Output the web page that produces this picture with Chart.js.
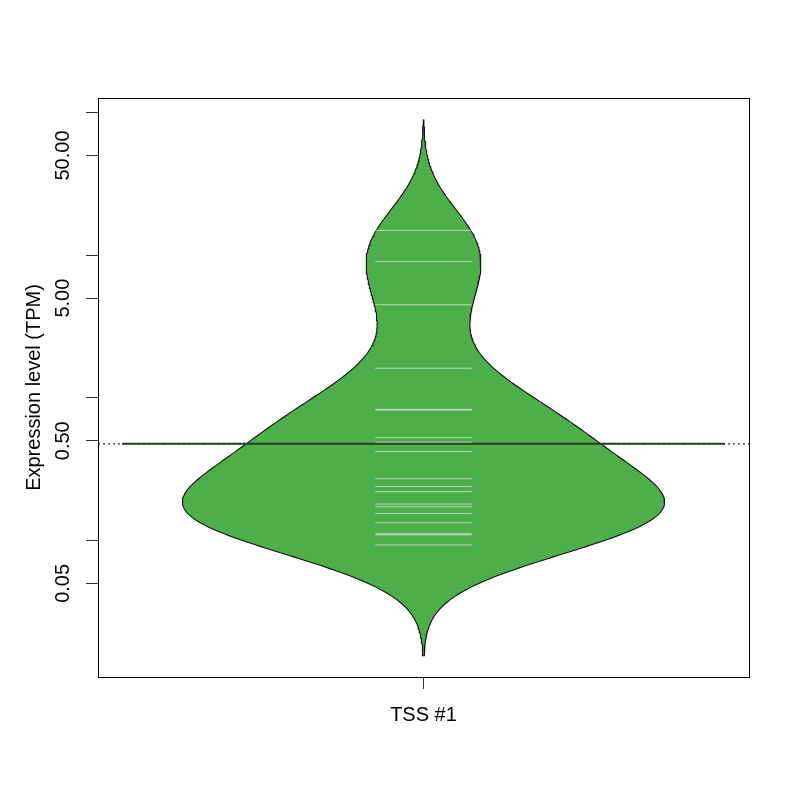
<!DOCTYPE html>
<html>
<head>
<meta charset="utf-8">
<script src="https://cdn.jsdelivr.net/npm/chart.js@4/dist/chart.umd.min.js"></script>
<style>html,body{margin:0;padding:0;background:#fff;}canvas{display:block;}</style>
</head>
<body>
<canvas id="c" width="800" height="800"></canvas>
<script>
// ---- data ----
const categories = ['TSS #1'];
const tpmValues = [14.92, 9.00, 4.49, 1.612, 0.83, 0.82, 0.526, 0.488, 0.4206, 0.2707,
                   0.2390, 0.2195, 0.1799, 0.1722, 0.1546, 0.1330, 0.1115, 0.1095, 0.0930];
const yTickValues = [0.05, 0.1, 0.5, 1, 5, 10, 50, 100];
const yTickLabels = ['0.05', '', '0.50', '', '5.00', '', '50.00', ''];
const bandwidthLog10 = 0.259;   // kernel bandwidth on log10 scale

// ---- derived ----
const logs = tpmValues.map(v => Math.log10(v));
const geoMean = Math.pow(10, logs.reduce((a, b) => a + b, 0) / logs.length);

const N = 300;
const lo = Math.min(...logs) - 3 * bandwidthLog10;
const hi = Math.max(...logs) + 3 * bandwidthLog10;
const grid = [], dens = [];
for (let i = 0; i < N; i++) {
  const L = lo + (hi - lo) * i / (N - 1);
  let d = 0;
  for (const l of logs) { const z = (L - l) / bandwidthLog10; d += Math.exp(-0.5 * z * z); }
  grid.push(L); dens.push(d);
}
const dmax = Math.max(...dens);
const halfMax = 0.4;
const violin = [];
for (let i = N - 1; i >= 0; i--) violin.push({x: 1 + dens[i] / dmax * halfMax, y: Math.pow(10, grid[i])});
for (let i = 0; i < N; i++) violin.push({x: 1 - dens[i] / dmax * halfMax, y: Math.pow(10, grid[i])});
violin.push(violin[0]);

const beanLines = [];
tpmValues.forEach(v => { beanLines.push({x: 1 - 0.08, y: v}, {x: 1 + 0.08, y: v}, {x: 1, y: null}); });

const FONT = {family: '"Liberation Sans", Arial, Helvetica, sans-serif', size: 20};

const boxPlugin = {
  id: 'box',
  afterDatasetsDraw(chart) {
    const a = chart.chartArea, ctx = chart.ctx;
    ctx.save();
    ctx.strokeStyle = '#000';
    ctx.lineWidth = 1;
    ctx.strokeRect(Math.round(a.left) + 0.5, Math.round(a.top) + 0.5,
                   Math.round(a.right - a.left), Math.round(a.bottom - a.top));
    ctx.restore();
  }
};

new Chart(document.getElementById('c'), {
  type: 'line',
  data: {
    datasets: [
      { label: 'overall', data: [{x: 0.46, y: geoMean}, {x: 1.54, y: geoMean}],
        borderColor: '#000', borderWidth: 1, borderDash: [2, 3], pointRadius: 0, order: 4 },
      { label: 'bean', data: violin, backgroundColor: '#4DAF4A', borderColor: '#111',
        borderWidth: 1.1, pointRadius: 0, fill: 'shape', clip: false, order: 3 },
      { label: 'beanlines', data: beanLines, borderColor: 'rgba(255,255,255,0.6)',
        borderWidth: 1, pointRadius: 0, spanGaps: false, order: 2 },
      { label: 'mean', data: [{x: 0.5, y: geoMean}, {x: 1.5, y: geoMean}],
        borderColor: '#243f24', borderWidth: 2, pointRadius: 0, order: 1 }
    ]
  },
  options: {
    responsive: false,
    animation: false,
    devicePixelRatio: 1,
    layout: {padding: {top: 98, right: 51, left: 0, bottom: 0}},
    plugins: {legend: {display: false}, tooltip: {enabled: false}},
    events: [],
    scales: {
      x: {
        type: 'linear', min: 0.46, max: 1.54,
        afterBuildTicks: s => { s.ticks = categories.map((c, i) => ({value: i + 1})); },
        afterFit: s => { s.height = 123; },
        ticks: { callback: v => categories[Math.round(v) - 1] || '', autoSkip: false,
                 maxRotation: 0, minRotation: 0, font: FONT, color: '#000', padding: 14 },
        grid: { drawOnChartArea: false, drawTicks: true, tickLength: 12, color: '#333', lineWidth: 1 },
        border: {display: false}
      },
      y: {
        type: 'logarithmic', min: 0.01103, max: 126.5,
        afterBuildTicks: s => { s.ticks = yTickValues.map(v => ({value: v})); },
        afterFit: s => { s.width = 98; },
        ticks: { callback: (v) => { const i = yTickValues.findIndex(t => Math.abs(t - v) < 1e-9 * Math.max(1, v)); return i >= 0 ? yTickLabels[i] : ''; },
                 autoSkip: false, minRotation: 90, maxRotation: 90, crossAlign: 'center',
                 padding: -3, font: FONT, color: '#000' },
        grid: { drawOnChartArea: false, drawTicks: true, tickLength: 12, color: '#333', lineWidth: 1 },
        border: {display: false},
        title: { display: true, text: 'Expression level (TPM)', font: FONT, color: '#000',
                 padding: {top: 22, bottom: 0} }
      }
    }
  },
  plugins: [boxPlugin]
});
</script>
</body>
</html>
